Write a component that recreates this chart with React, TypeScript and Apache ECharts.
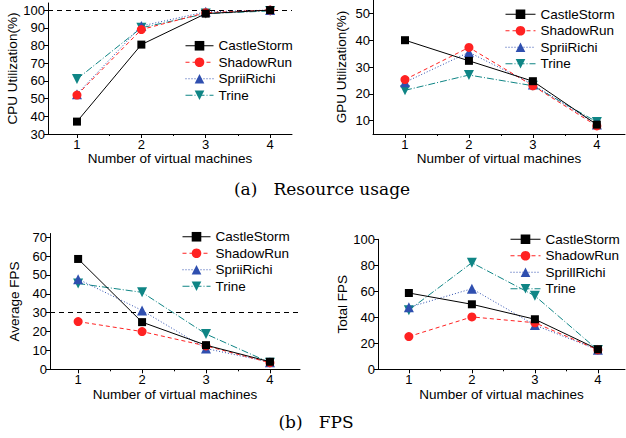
import React, { useEffect, useRef } from 'react';
import * as echarts from 'echarts';

// Number of virtual machines on the x axis
const machines = [1, 2, 3, 4];
const gameNames = ['CastleStorm', 'ShadowRun', 'SpriiRichi', 'Trine'];
const totalFpsNames = ['CastleStorm', 'ShadowRun', 'SprillRichi', 'Trine'];

// CPU utilization (%)
const cpuCastleStorm = [37, 80.5, 98, 100];
const cpuShadowRun = [52, 89, 98.5, 100];
const cpuSpriiRichi = [52.5, 91, 99, 100];
const cpuTrine = [61, 90, 98, 99.5];

// GPU utilization (%)
const gpuCastleStorm = [40, 32.3, 24.7, 8.5];
const gpuShadowRun = [25.3, 37.3, 23, 8];
const gpuSpriiRichi = [24.3, 35.5, 23.5, 8.5];
const gpuTrine = [21.3, 27, 23, 9.5];

// Average FPS
const avgCastleStorm = [58.5, 25, 12.8, 4];
const avgShadowRun = [25.3, 20, 12.4, 3.5];
const avgSpriiRichi = [47.8, 31.2, 11, 3.8];
const avgTrine = [45.5, 40.8, 18.7, 3.5];

// Total FPS
const totCastleStorm = [58.7, 50, 38.5, 15.4];
const totShadowRun = [25.2, 40.3, 35.8, 15];
const totSprillRichi = [47.7, 62, 34, 15];
const totTrine = [45.5, 82, 56.5, 14.8];

// Tick labels
const xTicks = [1, 2, 3, 4];
const xMinorTicks = [1.5, 2.5, 3.5];
const cpuTicks = [30, 40, 50, 60, 70, 80, 90, 100];
const gpuTicks = [10, 20, 30, 40, 50];
const avgTicks = [0, 10, 20, 30, 40, 50, 60, 70];
const totTicks = [0, 20, 40, 60, 80, 100];

// Reference levels drawn as dashed lines
const cpuFullLoad = 100;
const fpsPlayable = 30;

const SANS = 'Liberation Sans, Arial, sans-serif';
const SERIF = 'DejaVu Serif, Liberation Serif, serif';

const colors = ['#000000', '#ff2222', '#2f4faf', '#0f8585'];
const lineTypes: any[] = ['solid', [4, 3], [1, 2], [7, 2, 1, 2]];
const symbols = ['rect', 'circle', 'triangle', 'triangle'];
const symbolRotates = [0, 0, 0, 180];
const symbolSizes = [8, 9, 10, 10];

function makeSeries(names: string[], values: number[][], idx: number, ref?: number) {
  return values.map((vals, i) => {
    const s: any = {
      type: 'line',
      name: names[i],
      xAxisIndex: idx * 2,
      yAxisIndex: idx,
      data: machines.map((m, k) => [m, vals[k]]),
      symbol: symbols[i],
      symbolRotate: symbolRotates[i],
      symbolSize: symbolSizes[i],
      showAllSymbol: true,
      z: 10 - i,
      lineStyle: { color: colors[i], width: 1, type: lineTypes[i] },
      itemStyle: { color: colors[i], borderWidth: 0 },
    };
    if (ref !== undefined && i === 0) {
      s.markLine = {
        silent: true,
        symbol: 'none',
        label: { show: false },
        lineStyle: { color: '#000', width: 1, type: [5, 4] },
        data: [{ yAxis: ref }],
      };
    }
    return s;
  });
}

function xAxisPair(gridIndex: number, min: number, max: number, nameGap: number) {
  return [
    {
      type: 'value',
      gridIndex,
      position: 'bottom',
      min,
      max,
      axisLine: { show: true, onZero: false, lineStyle: { color: '#000', width: 1 } },
      axisTick: { show: true, length: 4, customValues: xTicks, lineStyle: { color: '#000' } },
      axisLabel: { customValues: xTicks, color: '#000', fontSize: 13, fontFamily: SANS, margin: 4 },
      splitLine: { show: false },
      name: 'Number of virtual machines',
      nameLocation: 'middle',
      nameGap,
      nameTextStyle: { color: '#000', fontSize: 13.5, fontFamily: SANS },
    },
    {
      type: 'value',
      gridIndex,
      position: 'bottom',
      offset: 0,
      min,
      max,
      axisLine: { show: false, onZero: false },
      axisTick: { show: true, length: 2, customValues: xMinorTicks, lineStyle: { color: '#000' } },
      axisLabel: { show: false },
      splitLine: { show: false },
    },
  ];
}

function yAxis(gridIndex: number, min: number, max: number, ticks: number[], name: string, nameGap: number) {
  return {
    type: 'value',
    gridIndex,
    min,
    max,
    axisLine: { show: true, onZero: false, lineStyle: { color: '#000', width: 1 } },
    axisTick: { show: true, length: 4, customValues: ticks, lineStyle: { color: '#000' } },
    axisLabel: { customValues: ticks, color: '#000', fontSize: 13, fontFamily: SANS, margin: 3 },
    splitLine: { show: false },
    name,
    nameLocation: 'middle',
    nameGap,
    nameTextStyle: { color: '#000', fontSize: 13.5, fontFamily: SANS },
  };
}

function legend(names: string[], left: number, top: number, itemWidth: number) {
  return {
    data: names,
    orient: 'vertical',
    left,
    top,
    itemWidth,
    itemHeight: 12,
    itemGap: 0,
    padding: 0,
    lineStyle: { width: 1 },
    textStyle: { color: '#000', fontSize: 13.5, fontFamily: SANS, lineHeight: 16.5 },
  };
}

export default function App() {
  const ref = useRef<HTMLDivElement>(null);

  useEffect(() => {
    if (!ref.current) return;
    const chart = echarts.init(ref.current, undefined, { renderer: 'svg' });
    const option: any = {
      animation: false,
      backgroundColor: '#ffffff',
      grid: [
        { left: 48, right: 334, top: 3, bottom: 304 },
        { left: 373, right: 1, top: 0, bottom: 304 },
        { left: 50, right: 326, top: 233.5, bottom: 68.7 },
        { left: 378, right: 1, top: 239.3, bottom: 68.7 },
      ],
      xAxis: [
        ...xAxisPair(0, 0.55, 4.34, 15),
        ...xAxisPair(1, 0.5, 4.44, 15),
        ...xAxisPair(2, 0.56, 4.47, 15),
        ...xAxisPair(3, 0.51, 4.43, 15),
      ],
      yAxis: [
        yAxis(0, 30, 104, cpuTicks, 'CPU Utilization(%)', 26),
        yAxis(1, 5, 55, gpuTicks, 'GPU Utilization(%)', 25),
        yAxis(2, 0, 72, avgTicks, 'Average FPS', 29),
        yAxis(3, 0, 100, totTicks, 'Total FPS', 29),
      ],
      legend: [
        legend(gameNames, 185, 37.5, 28),
        legend(gameNames, 505, 6, 30),
        legend(gameNames, 182, 228.5, 28),
        legend(totalFpsNames, 510, 231, 30),
      ],
      series: [
        ...makeSeries(gameNames, [cpuCastleStorm, cpuShadowRun, cpuSpriiRichi, cpuTrine], 0, cpuFullLoad),
        ...makeSeries(gameNames, [gpuCastleStorm, gpuShadowRun, gpuSpriiRichi, gpuTrine], 1),
        ...makeSeries(gameNames, [avgCastleStorm, avgShadowRun, avgSpriiRichi, avgTrine], 2, fpsPlayable),
        ...makeSeries(totalFpsNames, [totCastleStorm, totShadowRun, totSprillRichi, totTrine], 3),
      ],
      graphic: [
        {
          type: 'text',
          x: 322,
          y: 189,
          style: {
            text: '(a)   Resource usage',
            font: `17px ${SERIF}`,
            fill: '#000',
            align: 'center',
            verticalAlign: 'middle',
          },
        },
        {
          type: 'text',
          x: 316,
          y: 422,
          style: {
            text: '(b)   FPS',
            font: `17px ${SERIF}`,
            fill: '#000',
            align: 'center',
            verticalAlign: 'middle',
          },
        },
      ],
    };
    chart.setOption(option);
    return () => chart.dispose();
  }, []);

  return (
    <div
      ref={ref}
      style={{ position: 'fixed', left: 0, top: 0, width: 626, height: 438, background: '#fff' }}
    />
  );
}
